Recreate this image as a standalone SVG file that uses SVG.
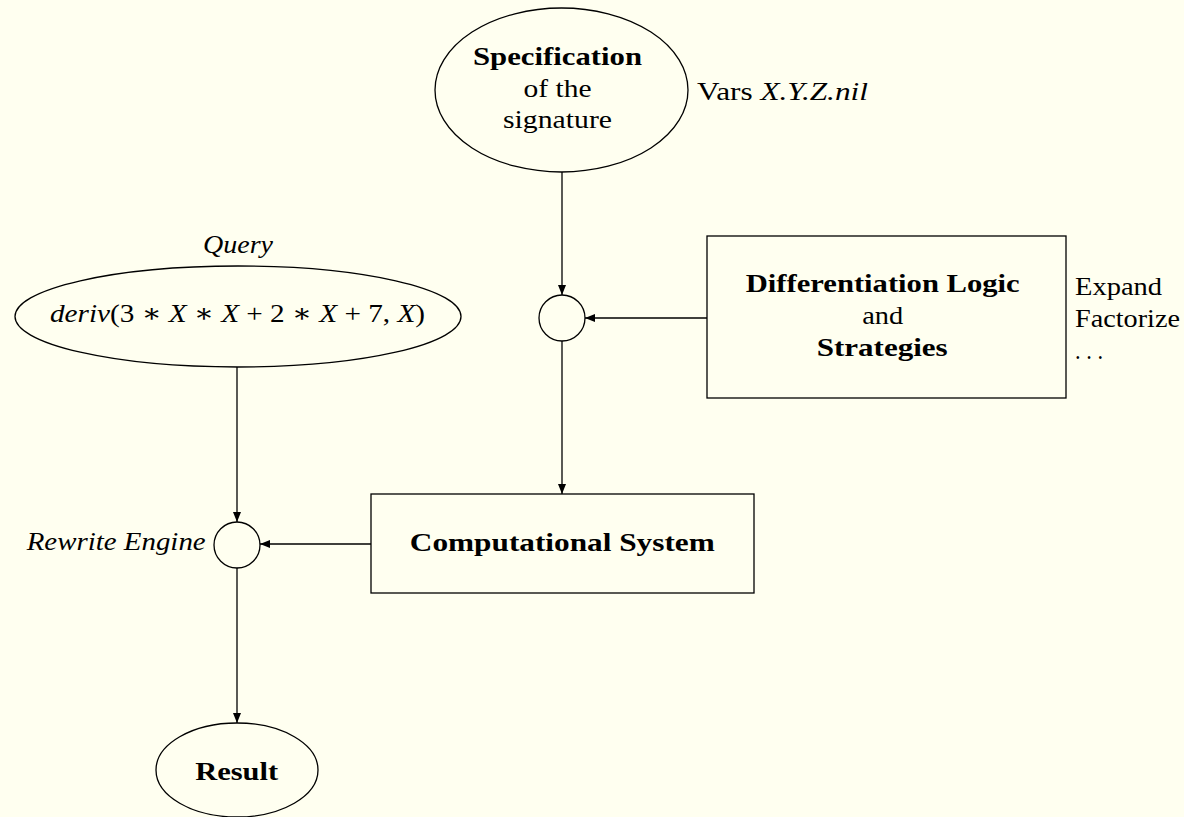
<svg xmlns="http://www.w3.org/2000/svg" width="1184" height="817" viewBox="0 0 1184 817">
<defs>
<style>
.s{fill:none;stroke:#000;stroke-width:1.3}
.c{stroke:#000;stroke-width:1.3;fill:none}
text{font-family:"Liberation Serif","DejaVu Serif",serif;font-size:26px;fill:#000}
.m{text-anchor:middle}
.b{font-weight:bold}
.i{font-style:italic}
</style>
<marker id="ah" viewBox="0 0 10 8" refX="10" refY="4" markerWidth="10" markerHeight="8" markerUnits="userSpaceOnUse" orient="auto">
<path d="M0,0 L10,4 L0,8 Z" fill="#000"/>
</marker>
</defs>
<rect x="0" y="0" width="1184" height="817" fill="#fffff0"/>
<g id="connectors">
<line class="c" x1="562" y1="172" x2="562" y2="295" marker-end="url(#ah)"/>
<line class="c" x1="707" y1="318" x2="585" y2="318" marker-end="url(#ah)"/>
<line class="c" x1="562" y1="341" x2="562" y2="494" marker-end="url(#ah)"/>
<line class="c" x1="237" y1="367" x2="237" y2="522" marker-end="url(#ah)"/>
<line class="c" x1="371" y1="544" x2="260" y2="544" marker-end="url(#ah)"/>
<line class="c" x1="237" y1="568" x2="237" y2="723" marker-end="url(#ah)"/>
</g>
<g id="spec">
<ellipse class="s" cx="561.5" cy="90" rx="126.5" ry="82"/>
<text class="m b" x="557.5" y="65" textLength="169" lengthAdjust="spacingAndGlyphs">Specification</text>
<text class="m" x="557.5" y="97" textLength="68" lengthAdjust="spacingAndGlyphs">of the</text>
<text class="m" x="557.5" y="128" textLength="109" lengthAdjust="spacingAndGlyphs">signature</text>
</g>
<g id="vars">
<text x="697" y="100" textLength="171" lengthAdjust="spacingAndGlyphs">Vars <tspan class="i">X.Y.Z.nil</tspan></text>
</g>
<g id="query">
<text class="m i" x="238" y="253" textLength="70" lengthAdjust="spacingAndGlyphs">Query</text>
<ellipse class="s" cx="238" cy="316.5" rx="223" ry="50.5"/>
<text x="50" y="322" textLength="375" lengthAdjust="spacingAndGlyphs"><tspan class="i">deriv</tspan>(3 ∗ <tspan class="i">X</tspan> ∗ <tspan class="i">X</tspan> + 2 ∗ <tspan class="i">X</tspan> + 7, <tspan class="i">X</tspan>)</text>
</g>
<g id="combine">
<circle class="s" cx="562" cy="318" r="23"/>
</g>
<g id="logic">
<rect class="s" x="707" y="236" width="359" height="162"/>
<text class="m b" x="882.7" y="292" textLength="274" lengthAdjust="spacingAndGlyphs">Differentiation Logic</text>
<text class="m" x="882.7" y="324" textLength="41" lengthAdjust="spacingAndGlyphs">and</text>
<text class="m b" x="882.2" y="356" textLength="131" lengthAdjust="spacingAndGlyphs">Strategies</text>
</g>
<g id="strategies-list">
<text x="1075" y="295" textLength="87" lengthAdjust="spacingAndGlyphs">Expand</text>
<text x="1075" y="327" textLength="105" lengthAdjust="spacingAndGlyphs">Factorize</text>
<text x="1075" y="359" textLength="28" lengthAdjust="spacingAndGlyphs">. . .</text>
</g>
<g id="system">
<rect class="s" x="371" y="494" width="383" height="99"/>
<text class="m b" x="562.3" y="551" textLength="305" lengthAdjust="spacingAndGlyphs">Computational System</text>
</g>
<g id="engine">
<circle class="s" cx="237" cy="545" r="23"/>
<text class="i" x="26.7" y="550" textLength="179" lengthAdjust="spacingAndGlyphs">Rewrite Engine</text>
</g>
<g id="result">
<ellipse class="s" cx="237" cy="770" rx="81" ry="47"/>
<text class="m b" x="236.7" y="780" textLength="83" lengthAdjust="spacingAndGlyphs">Result</text>
</g>
</svg>
